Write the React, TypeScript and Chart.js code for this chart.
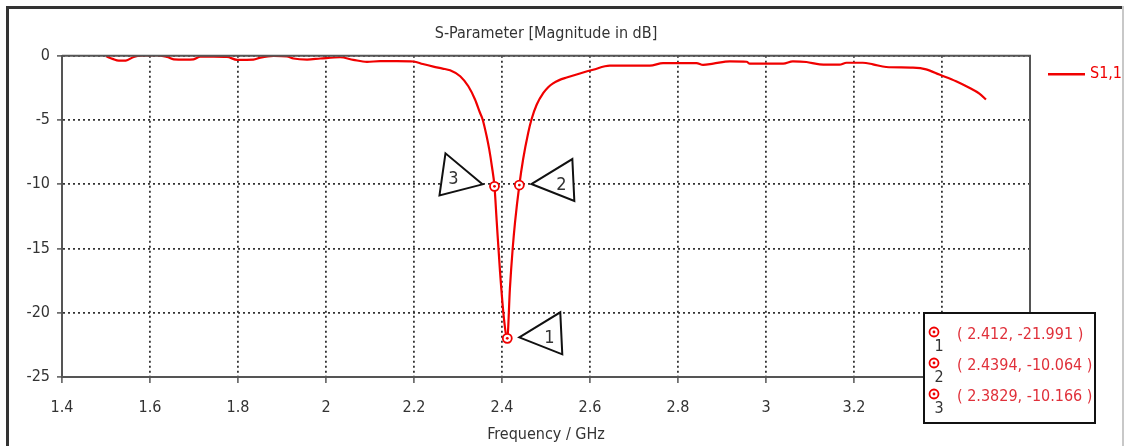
import React, { useEffect, useRef } from "react";
import { Chart, registerables } from "chart.js";

Chart.register(...registerables);

// ---- data ----
const freqGHz = [
  1.5, 1.515, 1.529, 1.545, 1.563, 1.586, 1.616, 1.639, 1.654, 1.68, 1.699, 1.714, 1.745, 1.775,
  1.798, 1.835, 1.851, 1.881, 1.911, 1.926, 1.957, 1.987, 2.032, 2.062, 2.093, 2.123, 2.161, 2.199,
  2.22, 2.244, 2.265, 2.282, 2.305, 2.3235, 2.3387, 2.35, 2.356, 2.365, 2.371, 2.377, 2.3829,
  2.388, 2.3955, 2.4045, 2.412, 2.418, 2.4243, 2.4296, 2.4394, 2.448, 2.4596, 2.467, 2.479, 2.494,
  2.505, 2.516, 2.53, 2.547, 2.577, 2.607, 2.645, 2.69, 2.736, 2.766, 2.842, 2.857, 2.88, 2.918,
  2.956, 2.963, 3.039, 3.061, 3.092, 3.122, 3.167, 3.183, 3.22, 3.243, 3.273, 3.334, 3.364, 3.394,
  3.432, 3.462, 3.485, 3.5,
];
const s11dB = [
  -0.05, -0.25, -0.39, -0.38, -0.1, 0.02, 0.05, -0.1, -0.28, -0.3, -0.28, -0.08, -0.08, -0.1,
  -0.32, -0.3, -0.15, -0.02, -0.06, -0.22, -0.3, -0.22, -0.12, -0.32, -0.48, -0.42, -0.42, -0.45,
  -0.65, -0.85, -1.0, -1.14, -1.6, -2.38, -3.41, -4.44, -4.96, -6.25, -7.29, -8.6, -10.166,
  -12.9, -16.8, -20.47, -21.991, -18.1, -15.0, -12.97, -10.064, -8.06, -5.99, -4.96, -3.8, -2.9,
  -2.45, -2.15, -1.9, -1.7, -1.38, -1.09, -0.78, -0.78, -0.78, -0.57, -0.57, -0.72, -0.62, -0.44,
  -0.47, -0.62, -0.62, -0.44, -0.49, -0.67, -0.7, -0.55, -0.55, -0.67, -0.88, -0.93, -1.06, -1.47,
  -1.99, -2.5, -2.95, -3.41,
];
const seriesLabel = "S1,1";
const xTickValues = [1.4, 1.6, 1.8, 2, 2.2, 2.4, 2.6, 2.8, 3, 3.2, 3.4, 3.6];
const yTickValues = [0, -5, -10, -15, -20, -25];
const markerIds = ["1", "2", "3"];
const markerFreq = [2.412, 2.4394, 2.3829];
const markerDb = [-21.991, -10.064, -10.166];
const markerSide = ["right", "right", "left"];

// ---- styles ----
const FONT = "'Liberation Sans Narrow', 'Arial Narrow', 'DejaVu Sans Condensed', sans-serif";
const TEXT = "#333333";
const RED = "rgb(240,0,0)";
const BOX_RED = "#e0303a";
const GRID = "#333";

const TRI: Record<string, number[][]> = {
  right: [[12, -1], [53, -26], [55, 16], [42, 0]],
  left: [[-12, -2], [-49, -33], [-55, 9], [-41, -7]],
};

function drawMarkerCircle(ctx: CanvasRenderingContext2D, x: number, y: number) {
  ctx.save();
  ctx.beginPath();
  ctx.arc(x, y, 4.5, 0, Math.PI * 2);
  ctx.fillStyle = "#fff";
  ctx.fill();
  ctx.lineWidth = 1.8;
  ctx.strokeStyle = RED;
  ctx.stroke();
  ctx.beginPath();
  ctx.arc(x, y, 1.4, 0, Math.PI * 2);
  ctx.fillStyle = RED;
  ctx.fill();
  ctx.restore();
}

const cstPlugin = {
  id: "cstDecor",
  afterDatasetsDraw(chart: any) {
    const { ctx, scales } = chart;
    const xs = scales.x;
    const ys = scales.y;
    markerFreq.forEach((f, i) => {
      const px = xs.getPixelForValue(f);
      const py = ys.getPixelForValue(markerDb[i]);
      const t = TRI[markerSide[i]];
      ctx.save();
      ctx.beginPath();
      ctx.moveTo(px + t[0][0], py + t[0][1]);
      ctx.lineTo(px + t[1][0], py + t[1][1]);
      ctx.lineTo(px + t[2][0], py + t[2][1]);
      ctx.closePath();
      ctx.fillStyle = "#fff";
      ctx.fill();
      ctx.lineWidth = 2;
      ctx.strokeStyle = "#111";
      ctx.lineJoin = "miter";
      ctx.stroke();
      ctx.fillStyle = TEXT;
      ctx.font = `18px ${FONT}`;
      ctx.textAlign = "center";
      ctx.textBaseline = "middle";
      ctx.fillText(markerIds[i], px + t[3][0], py + t[3][1]);
      ctx.restore();
      drawMarkerCircle(ctx, px, py);
    });
  },
  afterDraw(chart: any) {
    const { ctx, chartArea } = chart;
    const ds = chart.data.datasets[0];
    ctx.save();
    // plot frame top and right
    ctx.strokeStyle = "#555";
    ctx.lineWidth = 2;
    ctx.beginPath();
    ctx.moveTo(chartArea.left, chartArea.top);
    ctx.lineTo(chartArea.right, chartArea.top);
    ctx.lineTo(chartArea.right, chartArea.bottom);
    ctx.stroke();

    // legend
    const ly = chartArea.top + 18.5;
    ctx.strokeStyle = ds.borderColor;
    ctx.lineWidth = 2.5;
    ctx.beginPath();
    ctx.moveTo(chartArea.right + 18, ly);
    ctx.lineTo(chartArea.right + 55, ly);
    ctx.stroke();
    ctx.fillStyle = ds.borderColor;
    ctx.font = `16px ${FONT}`;
    ctx.textAlign = "left";
    ctx.textBaseline = "middle";
    ctx.fillText(ds.label, chartArea.right + 60, ly);

    // marker table box
    const bx = chartArea.right - 106;
    const by = chartArea.bottom - 64;
    const bw = 171;
    const bh = 110;
    ctx.fillStyle = "#fff";
    ctx.fillRect(bx, by, bw, bh);
    ctx.strokeStyle = "#111";
    ctx.lineWidth = 2;
    ctx.strokeRect(bx, by, bw, bh);
    markerFreq.forEach((f, i) => {
      const ry = by + 22 + i * 31;
      drawMarkerCircle(ctx, bx + 10, ry - 3);
      ctx.fillStyle = TEXT;
      ctx.font = `16px ${FONT}`;
      ctx.textAlign = "center";
      ctx.textBaseline = "middle";
      ctx.fillText(markerIds[i], bx + 15, ry + 12);
      ctx.fillStyle = BOX_RED;
      ctx.font = `16px ${FONT}`;
      ctx.textAlign = "left";
      ctx.fillText(`( ${f}, ${markerDb[i]} )`, bx + 33, ry);
    });

    // outer frame
    ctx.fillStyle = "#333";
    ctx.fillRect(6, 6, 1117, 3);
    ctx.fillRect(6, 6, 3, 440);
    ctx.fillStyle = "#c8c8c8";
    ctx.fillRect(1122, 6, 2, 440);
    ctx.restore();
  },
};

export default function App() {
  const ref = useRef<HTMLCanvasElement | null>(null);

  useEffect(() => {
    if (!ref.current) return;
    const chart = new Chart(ref.current, {
      type: "line",
      data: {
        datasets: [
          {
            label: seriesLabel,
            data: freqGHz.map((f, i) => ({ x: f, y: s11dB[i] })),
            borderColor: RED,
            backgroundColor: RED,
            borderWidth: 2.2,
            pointRadius: 0,
            cubicInterpolationMode: "monotone",
            fill: false,
          },
        ],
      },
      options: {
        animation: false,
        responsive: false,
        devicePixelRatio: 1,
        layout: { padding: { left: 0, right: 97, top: 0, bottom: 0 } },
        plugins: {
          legend: { display: false },
          tooltip: { enabled: false },
          title: {
            display: true,
            text: "S-Parameter [Magnitude in dB]",
            color: TEXT,
            fullSize: false,
            font: { family: FONT, size: 16, weight: "normal" },
            padding: { top: 24, bottom: 12.5 },
          },
        },
        scales: {
          x: {
            type: "linear",
            min: 1.4,
            max: 3.6,
            afterBuildTicks: (s: any) => {
              s.ticks = xTickValues.map((v) => ({ value: v }));
            },
            afterFit: (s: any) => {
              s.height = 69;
              s.paddingLeft = 0;
              s.paddingRight = 0;
            },
            ticks: {
              autoSkip: false,
              maxRotation: 0,
              padding: 15,
              color: TEXT,
              font: { family: FONT, size: 16 },
              callback: (v: any) => String(Math.round(Number(v) * 10) / 10),
            },
            grid: {
              color: GRID,
              lineWidth: 1.8,
              tickLength: 6,
              tickColor: "#555",
              tickWidth: 1.5,
              tickBorderDash: [],
            },
            border: { display: true, color: "#555", width: 2, dash: [2, 3] },
            title: {
              display: true,
              text: "Frequency / GHz",
              color: TEXT,
              font: { family: FONT, size: 16, weight: "normal" },
              padding: { top: 0, bottom: 2 },
            },
          },
          y: {
            type: "linear",
            min: -25,
            max: 0,
            afterBuildTicks: (s: any) => {
              s.ticks = yTickValues.map((v) => ({ value: v }));
            },
            afterFit: (s: any) => {
              s.width = 62;
              s.paddingTop = 0;
              s.paddingBottom = 0;
            },
            ticks: {
              padding: 7,
              color: TEXT,
              font: { family: FONT, size: 16 },
              callback: (v: any) => String(v),
            },
            grid: {
              color: GRID,
              lineWidth: 1.8,
              tickLength: 5,
              tickColor: "#555",
              tickWidth: 1.5,
              tickBorderDash: [],
            },
            border: { display: true, color: "#555", width: 2, dash: [2, 3] },
          },
        },
      },
      plugins: [cstPlugin],
    } as any);
    return () => chart.destroy();
  }, []);

  return (
    <div style={{ position: "fixed", left: 0, top: 0, width: 1127, height: 446, background: "#fff" }}>
      <canvas ref={ref} width={1127} height={446} style={{ display: "block", width: 1127, height: 446 }} />
    </div>
  );
}
